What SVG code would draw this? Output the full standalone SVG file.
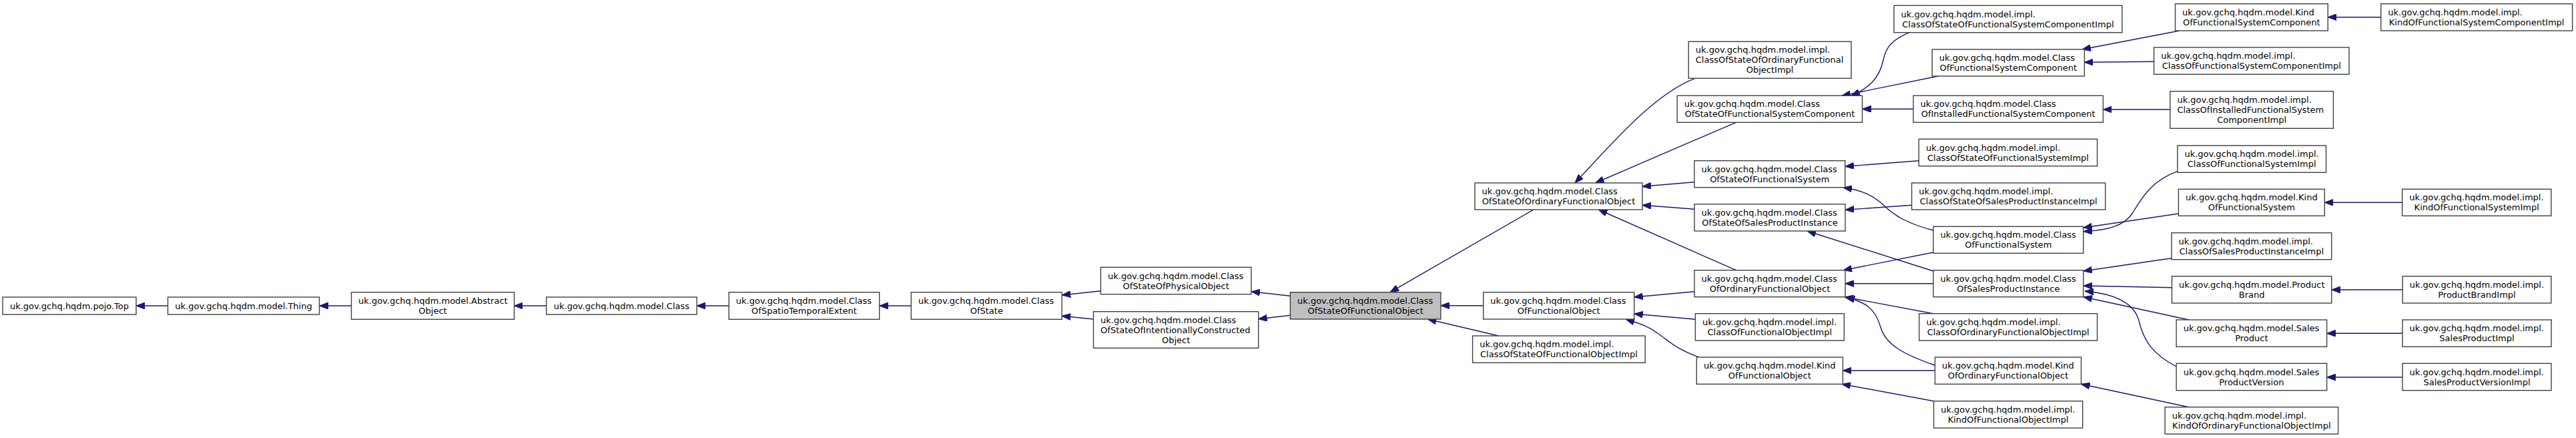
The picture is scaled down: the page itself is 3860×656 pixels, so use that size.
<svg xmlns="http://www.w3.org/2000/svg" width="3860" height="656" viewBox="0 0 3860 656">
<style>
.node rect{fill:#fff;stroke:#404040;stroke-width:1.4}
#n_CoSoFO rect{fill:#bfbfbf}
text{font-family:"DejaVu Sans","Liberation Sans",sans-serif;font-size:13px;fill:#000}
.l{text-anchor:start}
.c{text-anchor:middle}
.edge{fill:none;stroke:#191970;stroke-width:1.4;marker-end:url(#arr)}
</style>
<defs>
<marker id="arr" markerUnits="userSpaceOnUse" viewBox="0 0 13 10" refX="13" refY="5" markerWidth="13" markerHeight="10" orient="auto">
<path d="M0,0 L13,5 L0,10 z" fill="#191970" stroke="#191970" stroke-width="1"/>
</marker>
</defs>
<rect width="3860" height="656" fill="#fff"/>
<g id="edges">
<path class="edge" d="M251.5,458 L204,458"/>
<path class="edge" d="M526.5,458 L478.6,458"/>
<path class="edge" d="M818.7,458 L770.4,458"/>
<path class="edge" d="M1092.2,458 L1044.1,458"/>
<path class="edge" d="M1365.3,458 L1317.7,458"/>
<path class="edge" d="M1649.4,435.7 L1591.2,442"/>
<path class="edge" d="M1638.5,478 L1591.2,473.3"/>
<path class="edge" d="M1933.4,443.3 L1874.9,436.7"/>
<path class="edge" d="M1933.4,472.3 L1885.7,477.7"/>
<path class="edge" d="M2298,314 L2083,437.7"/>
<path class="edge" d="M2222.7,457.7 L2158.9,457.7"/>
<path class="edge" d="M2245.6,503 L2139.4,478"/>
<path class="edge" d="M2540,117.3 C2480,140 2420,210 2360,274"/>
<path class="edge" d="M2601.4,183.3 L2390.6,274"/>
<path class="edge" d="M2538.9,272.7 L2460.9,279.3"/>
<path class="edge" d="M2539,313.3 L2460.9,307.3"/>
<path class="edge" d="M2601.4,404.7 L2395.4,314"/>
<path class="edge" d="M2539,436.7 L2448.7,445"/>
<path class="edge" d="M2540.4,478.3 L2448.7,470"/>
<path class="edge" d="M2546,535 C2510,522 2500,510 2485,500 C2470,488 2455,484 2436,478"/>
<path class="edge" d="M2861,48.7 C2835,60 2826,70 2822,90 C2816,118 2800,132 2774,143.3"/>
<path class="edge" d="M2904.4,114 L2760,143.3"/>
<path class="edge" d="M2867,163.3 L2790.5,163.3"/>
<path class="edge" d="M2875.3,240.7 L2764.8,249.3"/>
<path class="edge" d="M2864.6,307.3 L2765,314.3"/>
<path class="edge" d="M2897,345 C2860,335 2840,325 2820,305 C2805,292 2790,285 2762,281"/>
<path class="edge" d="M2897,378 L2762,404.7"/>
<path class="edge" d="M2897,406 L2708,346"/>
<path class="edge" d="M2897,424.7 L2765,424.7"/>
<path class="edge" d="M2897,469.7 L2764,444.7"/>
<path class="edge" d="M2899,547 C2850,530 2825,515 2818,490 C2810,462 2795,452 2766,445.5"/>
<path class="edge" d="M2899.5,555 L2761.4,555"/>
<path class="edge" d="M2897.6,600.7 L2760,575.3"/>
<path class="edge" d="M3266,46 L3120,74"/>
<path class="edge" d="M3567.7,25.7 L3488.2,25.7"/>
<path class="edge" d="M3227.6,92.3 L3123.4,93.3"/>
<path class="edge" d="M3251.8,164 L3151.4,164"/>
<path class="edge" d="M3262.8,256.7 C3225,270 3210,295 3195,320 C3182,338 3160,345 3122,346.7"/>
<path class="edge" d="M3264.4,320 L3121.8,341"/>
<path class="edge" d="M3599.6,303.3 L3483.3,303.3"/>
<path class="edge" d="M3254,386.7 L3121.8,406"/>
<path class="edge" d="M3254.5,430.7 L3121.8,428"/>
<path class="edge" d="M3279.8,479 L3122,444.7"/>
<path class="edge" d="M3261,549 C3225,530 3212,510 3205,480 C3198,455 3170,440 3124,436"/>
<path class="edge" d="M3600.1,434 L3493.7,434"/>
<path class="edge" d="M3600,499.3 L3486.6,499.3"/>
<path class="edge" d="M3600,565 L3486.6,565"/>
<path class="edge" d="M3279.8,609.7 L3118.5,575.3"/>
</g>
<g id="n_Top" class="node"><rect x="4" y="445" width="200" height="26"/><text class="c" x="104" y="462.5">uk.gov.gchq.hqdm.pojo.Top</text></g>
<g id="n_Thing" class="node"><rect x="251.5" y="445" width="227" height="26"/><text class="c" x="365" y="462.5">uk.gov.gchq.hqdm.model.Thing</text></g>
<g id="n_AbstractObject" class="node"><rect x="526.5" y="437.7" width="244" height="40.6"/><text class="l" x="537" y="455">uk.gov.gchq.hqdm.model.Abstract</text><text class="c" x="648.5" y="470">Object</text></g>
<g id="n_Class" class="node"><rect x="818.7" y="445" width="225.4" height="26"/><text class="c" x="931.4" y="462.5">uk.gov.gchq.hqdm.model.Class</text></g>
<g id="n_CoSTE" class="node"><rect x="1092.2" y="437.7" width="225.5" height="40.6"/><text class="l" x="1102.8" y="455">uk.gov.gchq.hqdm.model.Class</text><text class="c" x="1205" y="470">OfSpatioTemporalExtent</text></g>
<g id="n_CoS" class="node"><rect x="1365.3" y="437.7" width="225.9" height="40.6"/><text class="l" x="1375.9" y="455">uk.gov.gchq.hqdm.model.Class</text><text class="c" x="1478.3" y="470">OfState</text></g>
<g id="n_CoSoPO" class="node"><rect x="1649.4" y="400.3" width="225.5" height="40.4"/><text class="l" x="1660" y="417.5">uk.gov.gchq.hqdm.model.Class</text><text class="c" x="1762.2" y="432.5">OfStateOfPhysicalObject</text></g>
<g id="n_CoSoICO" class="node"><rect x="1638.5" y="466.7" width="247.2" height="54.6"/><text class="l" x="1649.1" y="483.5">uk.gov.gchq.hqdm.model.Class</text><text class="l" x="1649.1" y="498.5">OfStateOfIntentionallyConstructed</text><text class="c" x="1762.1" y="513.5">Object</text></g>
<g id="n_CoSoFO" class="node"><rect x="1933.4" y="437.7" width="225.5" height="40.3"/><text class="l" x="1944" y="454.8">uk.gov.gchq.hqdm.model.Class</text><text class="c" x="2046.2" y="469.8">OfStateOfFunctionalObject</text></g>
<g id="n_CoSoOFO" class="node"><rect x="2210" y="274" width="251" height="40"/><text class="l" x="2220.6" y="291">uk.gov.gchq.hqdm.model.Class</text><text class="c" x="2335.5" y="306">OfStateOfOrdinaryFunctionalObject</text></g>
<g id="n_CoFO" class="node"><rect x="2222.7" y="437.7" width="226" height="40.3"/><text class="l" x="2233.3" y="454.8">uk.gov.gchq.hqdm.model.Class</text><text class="c" x="2335.7" y="469.8">OfFunctionalObject</text></g>
<g id="n_CoSoFOImpl" class="node"><rect x="2206.6" y="503" width="258.6" height="40.3"/><text class="l" x="2217.2" y="520.2">uk.gov.gchq.hqdm.model.impl.</text><text class="c" x="2335.9" y="535.2">ClassOfStateOfFunctionalObjectImpl</text></g>
<g id="n_CoSoOFOImpl" class="node"><rect x="2530.2" y="62.3" width="243.8" height="55"/><text class="l" x="2540.8" y="79.3">uk.gov.gchq.hqdm.model.impl.</text><text class="l" x="2540.8" y="94.3">ClassOfStateOfOrdinaryFunctional</text><text class="c" x="2652.1" y="109.3">ObjectImpl</text></g>
<g id="n_CoSoFSC" class="node"><rect x="2513.2" y="143.3" width="277.3" height="40"/><text class="l" x="2523.8" y="160.3">uk.gov.gchq.hqdm.model.Class</text><text class="c" x="2651.85" y="175.3">OfStateOfFunctionalSystemComponent</text></g>
<g id="n_CoSoFS" class="node"><rect x="2538.9" y="240.7" width="225.9" height="40"/><text class="l" x="2549.5" y="257.7">uk.gov.gchq.hqdm.model.Class</text><text class="c" x="2651.85" y="272.7">OfStateOfFunctionalSystem</text></g>
<g id="n_CoSoSPI" class="node"><rect x="2539" y="305.7" width="226" height="40.3"/><text class="l" x="2549.6" y="322.8">uk.gov.gchq.hqdm.model.Class</text><text class="c" x="2652" y="337.8">OfStateOfSalesProductInstance</text></g>
<g id="n_CoOFO" class="node"><rect x="2539" y="404.7" width="226" height="40"/><text class="l" x="2549.6" y="421.7">uk.gov.gchq.hqdm.model.Class</text><text class="c" x="2652" y="436.7">OfOrdinaryFunctionalObject</text></g>
<g id="n_CoFOImpl" class="node"><rect x="2540.4" y="469.7" width="222.9" height="40.3"/><text class="l" x="2551" y="486.8">uk.gov.gchq.hqdm.model.impl.</text><text class="c" x="2651.85" y="501.8">ClassOfFunctionalObjectImpl</text></g>
<g id="n_KoFO" class="node"><rect x="2542.3" y="535" width="219.1" height="40.3"/><text class="l" x="2552.9" y="552.2">uk.gov.gchq.hqdm.model.Kind</text><text class="c" x="2651.85" y="567.2">OfFunctionalObject</text></g>
<g id="n_CoSoFSCImpl" class="node"><rect x="2838" y="8.3" width="341.9" height="40.4"/><text class="l" x="2848.6" y="25.5">uk.gov.gchq.hqdm.model.impl.</text><text class="c" x="3008.95" y="40.5">ClassOfStateOfFunctionalSystemComponentImpl</text></g>
<g id="n_CoFSC" class="node"><rect x="2895.2" y="74" width="228.2" height="40"/><text class="l" x="2905.8" y="91">uk.gov.gchq.hqdm.model.Class</text><text class="c" x="3009.3" y="106">OfFunctionalSystemComponent</text></g>
<g id="n_CoIFSC" class="node"><rect x="2867" y="143.3" width="284.4" height="40"/><text class="l" x="2877.6" y="160.3">uk.gov.gchq.hqdm.model.Class</text><text class="c" x="3009.2" y="175.3">OfInstalledFunctionalSystemComponent</text></g>
<g id="n_CoSoFSImpl" class="node"><rect x="2875.3" y="208.3" width="267.3" height="40.4"/><text class="l" x="2885.9" y="225.5">uk.gov.gchq.hqdm.model.impl.</text><text class="c" x="3008.95" y="240.5">ClassOfStateOfFunctionalSystemImpl</text></g>
<g id="n_CoSoSPIImpl" class="node"><rect x="2864.6" y="274" width="290.1" height="40"/><text class="l" x="2875.2" y="291">uk.gov.gchq.hqdm.model.impl.</text><text class="c" x="3009.65" y="306">ClassOfStateOfSalesProductInstanceImpl</text></g>
<g id="n_CoFS" class="node"><rect x="2897" y="339.3" width="224.8" height="40"/><text class="l" x="2907.6" y="356.3">uk.gov.gchq.hqdm.model.Class</text><text class="c" x="3009.4" y="371.3">OfFunctionalSystem</text></g>
<g id="n_CoSPI" class="node"><rect x="2897" y="404.7" width="224.8" height="40"/><text class="l" x="2907.6" y="421.7">uk.gov.gchq.hqdm.model.Class</text><text class="c" x="3009.4" y="436.7">OfSalesProductInstance</text></g>
<g id="n_CoOFOImpl" class="node"><rect x="2875.8" y="469.7" width="266.8" height="40.3"/><text class="l" x="2886.4" y="486.8">uk.gov.gchq.hqdm.model.impl.</text><text class="c" x="3009.2" y="501.8">ClassOfOrdinaryFunctionalObjectImpl</text></g>
<g id="n_KoOFO" class="node"><rect x="2899.5" y="535" width="219" height="40.3"/><text class="l" x="2910.1" y="552.2">uk.gov.gchq.hqdm.model.Kind</text><text class="c" x="3009" y="567.2">OfOrdinaryFunctionalObject</text></g>
<g id="n_KoFOImpl" class="node"><rect x="2897.6" y="600.7" width="223.1" height="40.3"/><text class="l" x="2908.2" y="617.8">uk.gov.gchq.hqdm.model.impl.</text><text class="c" x="3009.15" y="632.8">KindOfFunctionalObjectImpl</text></g>
<g id="n_KoFSC" class="node"><rect x="3259.5" y="5.7" width="228.7" height="40.3"/><text class="l" x="3270.1" y="22.8">uk.gov.gchq.hqdm.model.Kind</text><text class="c" x="3373.85" y="37.8">OfFunctionalSystemComponent</text></g>
<g id="n_KoFSCImpl" class="node"><rect x="3567.7" y="5.7" width="286.9" height="40.3"/><text class="l" x="3578.3" y="22.8">uk.gov.gchq.hqdm.model.impl.</text><text class="c" x="3711.15" y="37.8">KindOfFunctionalSystemComponentImpl</text></g>
<g id="n_CoFSCImpl" class="node"><rect x="3227.6" y="71" width="292.4" height="40.3"/><text class="l" x="3238.2" y="88.2">uk.gov.gchq.hqdm.model.impl.</text><text class="c" x="3373.8" y="103.2">ClassOfFunctionalSystemComponentImpl</text></g>
<g id="n_CoIFSCImpl" class="node"><rect x="3251.8" y="136.7" width="244.6" height="55.6"/><text class="l" x="3262.4" y="154">uk.gov.gchq.hqdm.model.impl.</text><text class="l" x="3262.4" y="169">ClassOfInstalledFunctionalSystem</text><text class="c" x="3374.1" y="184">ComponentImpl</text></g>
<g id="n_CoFSImpl" class="node"><rect x="3262.8" y="218" width="222.7" height="40.3"/><text class="l" x="3273.4" y="235.2">uk.gov.gchq.hqdm.model.impl.</text><text class="c" x="3374.15" y="250.2">ClassOfFunctionalSystemImpl</text></g>
<g id="n_KoFS" class="node"><rect x="3264.4" y="283.3" width="218.9" height="40"/><text class="l" x="3275" y="300.3">uk.gov.gchq.hqdm.model.Kind</text><text class="c" x="3373.85" y="315.3">OfFunctionalSystem</text></g>
<g id="n_KoFSImpl" class="node"><rect x="3599.6" y="283.3" width="223.2" height="40"/><text class="l" x="3610.2" y="300.3">uk.gov.gchq.hqdm.model.impl.</text><text class="c" x="3711.2" y="315.3">KindOfFunctionalSystemImpl</text></g>
<g id="n_CoSPIImpl" class="node"><rect x="3254" y="348.7" width="239.7" height="40"/><text class="l" x="3264.6" y="365.7">uk.gov.gchq.hqdm.model.impl.</text><text class="c" x="3373.85" y="380.7">ClassOfSalesProductInstanceImpl</text></g>
<g id="n_ProductBrand" class="node"><rect x="3254.5" y="413.7" width="239.2" height="40.3"/><text class="l" x="3265.1" y="430.8">uk.gov.gchq.hqdm.model.Product</text><text class="c" x="3374.1" y="445.8">Brand</text></g>
<g id="n_SalesProduct" class="node"><rect x="3261.1" y="479" width="225.5" height="40.3"/><text class="l" x="3271.7" y="496.2">uk.gov.gchq.hqdm.model.Sales</text><text class="c" x="3373.85" y="511.2">Product</text></g>
<g id="n_SalesProductVersion" class="node"><rect x="3261.1" y="544.3" width="225.5" height="40.4"/><text class="l" x="3271.7" y="561.5">uk.gov.gchq.hqdm.model.Sales</text><text class="c" x="3373.85" y="576.5">ProductVersion</text></g>
<g id="n_KoOFOImpl" class="node"><rect x="3244.1" y="609.7" width="259.5" height="40.3"/><text class="l" x="3254.7" y="626.8">uk.gov.gchq.hqdm.model.impl.</text><text class="c" x="3373.85" y="641.8">KindOfOrdinaryFunctionalObjectImpl</text></g>
<g id="n_ProductBrandImpl" class="node"><rect x="3600.1" y="413.7" width="222.7" height="40.3"/><text class="l" x="3610.7" y="430.8">uk.gov.gchq.hqdm.model.impl.</text><text class="c" x="3711.45" y="445.8">ProductBrandImpl</text></g>
<g id="n_SalesProductImpl" class="node"><rect x="3600" y="479" width="223" height="40.3"/><text class="l" x="3610.6" y="496.2">uk.gov.gchq.hqdm.model.impl.</text><text class="c" x="3711.5" y="511.2">SalesProductImpl</text></g>
<g id="n_SalesProductVersionImpl" class="node"><rect x="3600" y="544.3" width="223" height="40.4"/><text class="l" x="3610.6" y="561.5">uk.gov.gchq.hqdm.model.impl.</text><text class="c" x="3711.5" y="576.5">SalesProductVersionImpl</text></g>
</svg>
